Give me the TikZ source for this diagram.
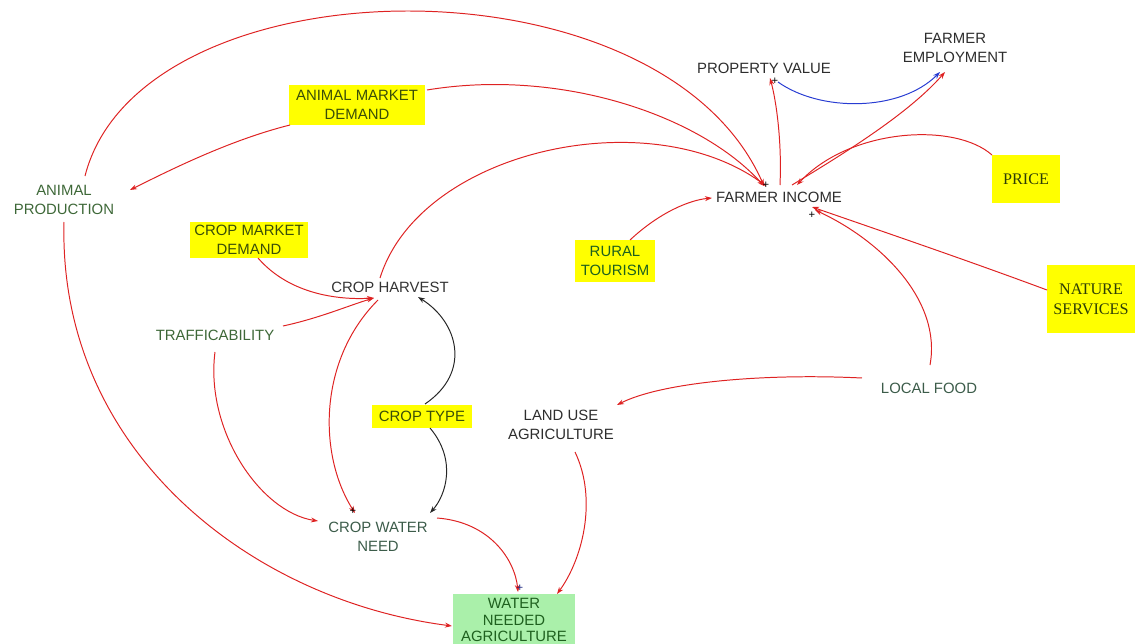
\documentclass[tikz,border=0pt]{standalone}
\usepackage{fontspec}
\setmainfont{Liberation Sans}
\newfontfamily\serifface{Liberation Serif}
\usetikzlibrary{arrows.meta,calc}
\definecolor{linkred}{RGB}{222,34,34}
\definecolor{linkblue}{RGB}{40,60,210}
\definecolor{boxyellow}{RGB}{255,255,0}
\definecolor{boxgreen}{RGB}{170,240,170}
\definecolor{txtgreen}{RGB}{62,104,56}
\definecolor{txtteal}{RGB}{60,92,74}
\definecolor{txtolive}{RGB}{58,78,8}
\definecolor{txtdark}{RGB}{45,45,45}
\definecolor{txtdkgreen}{RGB}{30,96,30}
\tikzset{
  var/.style={align=center,inner sep=1pt,font=\fontsize{10.6}{13.5}\selectfont,text=txtdark},
  givenbox/.style={var,fill=boxyellow,text=txtolive},
  link/.style={draw=linkred,line width=0.7pt,-{Stealth[length=5pt,width=3.5pt]}},
  bluelink/.style={link,draw=linkblue},
  blacklink/.style={link,draw=black!85},
  polarity/.style={inner sep=0pt,font=\fontsize{8}{8}\selectfont,text=black}
}
\begin{document}
\begin{tikzpicture}[x=0.025cm,y=-0.025cm]
\useasboundingbox (0,0) rectangle (1138,644);

% variables
\node[var] (fe) at (955,48) {FARMER\\EMPLOYMENT};
\node[var] (pv) at (764,68) {PROPERTY VALUE};
\node[givenbox,minimum width=3.375cm,minimum height=1cm] (amd) at (357,105) {ANIMAL MARKET\\DEMAND};
\node[givenbox,text=txtolive!80!black,font=\serifface\fontsize{11.5}{14}\selectfont,minimum width=1.7cm,minimum height=1.175cm] (price) at (1026,179) {PRICE};
\node[var] (fi) at (779,197) {FARMER INCOME};
\node[var,text=txtgreen] (ap) at (64,200) {ANIMAL\\PRODUCTION};
\node[givenbox,minimum width=2.925cm,minimum height=0.9cm] (cmd) at (249,240) {CROP MARKET\\DEMAND};
\node[givenbox,text=txtdkgreen,minimum width=2cm,minimum height=1.05cm] (rt) at (615,261) {RURAL\\TOURISM};
\node[givenbox,text=txtolive!80!black,font=\serifface\fontsize{11.5}{14}\selectfont,minimum width=2.2cm,minimum height=1.7cm] (ns) at (1091,299) {NATURE\\SERVICES};
\node[var,text=black!80] (ch) at (390,287) {CROP HARVEST};
\node[var,text=txtgreen] (tr) at (215,335) {TRAFFICABILITY};
\node[var,text=txtteal] (lf) at (929,388) {LOCAL FOOD};
\node[givenbox,minimum width=2.5cm,minimum height=0.575cm] (ct) at (422,416) {CROP TYPE};
\node[var] (lua) at (561,425) {LAND USE\\AGRICULTURE};
\node[var,text=txtteal] (cwn) at (378,537) {CROP WATER\\NEED};
\node[var,fill=boxgreen,text=txtdkgreen,font=\fontsize{10.6}{11.5}\selectfont,minimum width=3.05cm,minimum height=1.3cm] (wna) at (514,620) {WATER\\NEEDED\\AGRICULTURE};

% links
\draw[link] ($(ap)+(21,-24)$) .. controls (140,-40) and (660,-50) .. ($(fi)+(-15,-11)$);
\draw[link] ($(amd)+(-67,20)$) .. controls (230,140) and (170,170) .. ($(ap)+(66,-10)$);
\draw[link] ($(amd)+(70,-15)$) .. controls (560,68) and (700,115) .. ($(fi)+(-15,-11)$);
\draw[link] ($(ch)+(-10,-9)$) .. controls (420,150) and (650,100) .. ($(fi)+(-13,-11)$);
\draw[link] ($(rt)+(15,-21)$) .. controls (660,212) and (690,200) .. ($(fi)+(-67,1)$);
\draw[link] ($(fi)+(1,-12)$) .. controls (782,140) and (776,100) .. ($(pv)+(6,10)$);
\draw[bluelink] ($(pv)+(14,14)$) .. controls (820,112) and (900,112) .. ($(fe)+(-15,24)$);
\draw[link] ($(fi)+(13,-12)$) .. controls (850,150) and (910,112) .. ($(fe)+(-10,24)$);
\draw[link] ($(price)+(-34,-24)$) .. controls (955,122) and (850,128) .. ($(fi)+(18,-12)$);
\draw[link] ($(ns)+(-44,-9)$) .. controls (969,261) and (890,234) .. ($(fi)+(33,10)$);
\draw[link] ($(lf)+(1,-23)$) .. controls (942,300) and (880,240) .. ($(fi)+(36,13)$);
\draw[link] ($(lf)+(-67,-10)$) .. controls (760,373) and (660,383) .. ($(lua)+(56,-20)$);
\draw[link] ($(lua)+(14,27)$) .. controls (598,500) and (582,560) .. ($(wna)+(43,-26)$);
\draw[link] ($(cmd)+(9,18)$) .. controls (290,295) and (340,300) .. ($(ch)+(-16,11)$);
\draw[link] ($(tr)+(68,-9)$) .. controls (320,318) and (350,305) .. ($(ch)+(-16,11)$);
\draw[link] ($(ch)+(-12,13)$) .. controls (318,360) and (318,455) .. ($(cwn)+(-23,-24)$);
\draw[link] ($(tr)+(0,17)$) .. controls (205,430) and (260,512) .. ($(cwn)+(-60,-16)$);
\draw[blacklink] ($(ct)+(3,-12)$) .. controls (472,372) and (458,322) .. ($(ch)+(28,10)$);
\draw[blacklink] ($(ct)+(8,12)$) .. controls (457,460) and (446,495) .. ($(cwn)+(52,-24)$);
\draw[link] ($(cwn)+(59,-19)$) .. controls (490,522) and (515,560) .. ($(wna)+(4,-28)$);
\draw[link] ($(ap)+(0,22)$) .. controls (58,450) and (250,600) .. ($(wna)+(-62,6)$);

% polarity marks
\node[polarity] (p1) at (766,185) {+};
\node[polarity] (p2) at (812,215) {+};
\node[polarity] (p3) at (775,81) {+};
\node[polarity] (p4) at (353,511) {+};
\node[polarity,text=linkblue!60!black] (p5) at (520,588) {+};
\end{tikzpicture}
\end{document}
